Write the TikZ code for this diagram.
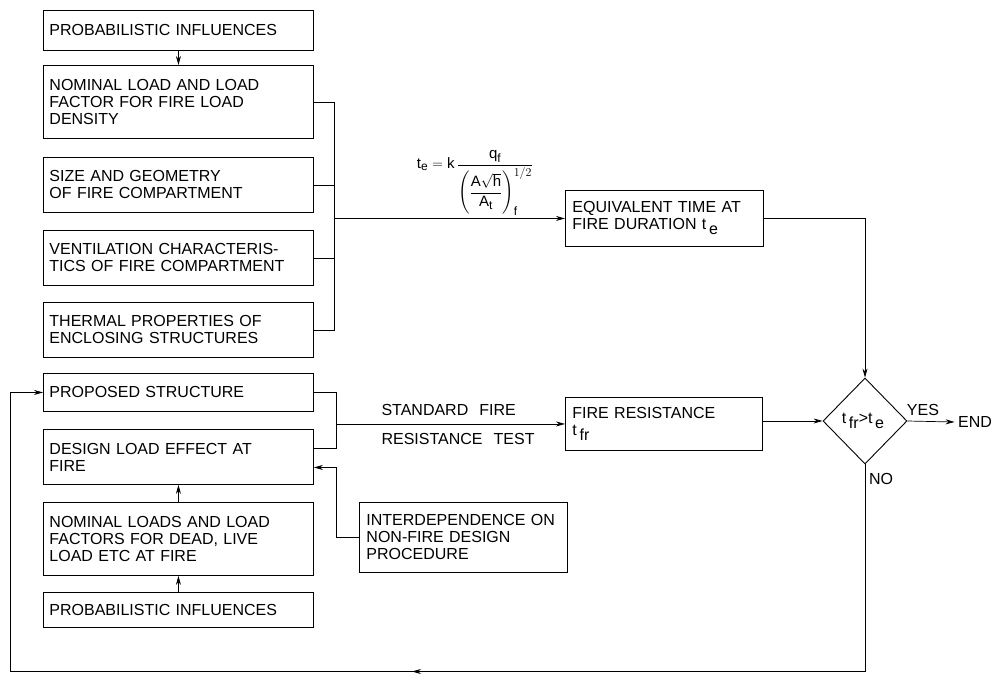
\documentclass[tikz,border=0pt]{standalone}
\usepackage{amsmath}
\usepackage{fontspec}
\setmainfont[WordSpace=2.5]{Liberation Sans}
\usetikzlibrary{shapes.geometric,arrows.meta}
\DeclareMathSizes{15}{15}{12}{10}
\newcommand\dnsub[1]{\raisebox{-5pt}{#1}}
\begin{document}
\begin{tikzpicture}[x=1pt,y=-1pt,
  every node/.style={font=\fontsize{16}{17}\selectfont},
  lbox/.style={draw,line width=0.9pt,rectangle,anchor=north west,align=left,inner xsep=6pt,inner ysep=0pt},
  wbox/.style={lbox,minimum width=270pt,text width=258pt},
  conn/.style={line width=0.7pt},
  arr/.style={conn,-{Stealth[length=9pt,width=5pt]}}]
\useasboundingbox (0,0) rectangle (997,673);
% left column
\node[wbox,minimum height=40pt] (pi1) at (43,10) {PROBABILISTIC INFLUENCES};
\node[wbox,minimum height=73pt] (nl) at (43,65) {NOMINAL LOAD AND LOAD\\FACTOR FOR FIRE LOAD\\DENSITY};
\node[wbox,minimum height=55pt] (sg) at (43,157) {SIZE AND GEOMETRY\\OF FIRE COMPARTMENT};
\node[wbox,minimum height=55pt] (vc) at (43,230) {VENTILATION CHARACTERIS-\\TICS OF FIRE COMPARTMENT};
\node[wbox,minimum height=55pt] (tp) at (43,302) {THERMAL PROPERTIES OF\\ENCLOSING STRUCTURES};
\node[wbox,minimum height=38pt] (ps) at (43,373) {PROPOSED STRUCTURE};
\node[wbox,minimum height=55pt] (dl) at (43,429) {DESIGN LOAD EFFECT AT\\FIRE};
\node[wbox,minimum height=73pt] (nls) at (43,502) {NOMINAL LOADS AND LOAD\\FACTORS FOR DEAD, LIVE\\LOAD ETC AT FIRE};
\node[wbox,minimum height=35pt] (pi2) at (43,592) {PROBABILISTIC INFLUENCES};
% middle and right boxes
\node[lbox,inner xsep=7pt,minimum width=198pt,text width=184pt,minimum height=56pt] (eq) at (565,190) {EQUIVALENT TIME AT\\FIRE DURATION t\,\dnsub{e}};
\node[lbox,inner xsep=7pt,minimum width=197pt,text width=183pt,minimum height=53pt] (fr) at (565,397) {FIRE RESISTANCE\\t\,\dnsub{fr}};
\node[lbox,inner xsep=7pt,minimum width=208pt,text width=194pt,minimum height=70pt] (id) at (359,502) {INTERDEPENDENCE ON\\NON-FIRE DESIGN\\PROCEDURE};
\node[draw,line width=0.9pt,diamond,minimum width=84pt,minimum height=86pt,inner sep=0pt] (dm) at (865,421) {};
\node (dmt) at (863,421) {t\,\dnsub{fr}>t\,\dnsub{e}};
% labels
\node (frm) at (475,183) {\fontsize{15}{15}\selectfont $\text{t}_{\text{e}}=\text{k}\,\dfrac{\text{q}_{\text{f}}}{\left(\dfrac{\text{A}\sqrt{\text{h}}}{\text{A}_{\text{t}}}\right)_{\text{f}}^{1/2}}$};
\node[anchor=west] (sft) at (378,410) {STANDARD FIRE};
\node[anchor=west] (rt) at (378,439) {RESISTANCE TEST};
\node (yes) at (923,410) {YES};
\node (end) at (975,422) {END};
\node (no) at (881,479) {NO};
\coordinate (bx) at (334,0);
\coordinate (cx) at (336,0);
\coordinate (lb) at (10,671.5);
\coordinate (mid) at (412,671.5);
\coordinate (dlin) at ([yshift=-10.5pt]dl.east);
\coordinate (dlout) at ([yshift=9pt]dl.east);
% connectors
\draw[arr] (pi1.south) -- (nl.north);
\draw[conn] (nl.east) -- (nl.east -| bx) -- (tp.east -| bx) -- (tp.east);
\draw[conn] (sg.east) -- (sg.east -| bx);
\draw[conn] (vc.east) -- (vc.east -| bx);
\draw[arr] (eq.west -| bx) -- (eq.west);
\draw[arr] (eq.east) -| (dm.north);
\draw[conn] (ps.east) -- (ps.east -| cx) -- (dlout -| cx) -- (dlout);
\draw[arr] (fr.west -| cx) -- (fr.west);
\draw[arr] (id.west) -| (cx |- dlin) -- (dlin);
\draw[arr] (nls.north) -- (dl.south);
\draw[arr] (pi2.north) -- (nls.south);
\draw[arr] (fr.east |- dm.west) -- (dm.west);
\draw[arr] (dm.east) -- (end.west);
\draw[conn] (dm.south) -- (dm.south |- lb) -- (lb) -- (lb |- ps.west);
\draw[arr] (lb |- ps.west) -- (ps.west);
\draw[arr] (dm.south |- mid) -- (mid);
\end{tikzpicture}
\end{document}
